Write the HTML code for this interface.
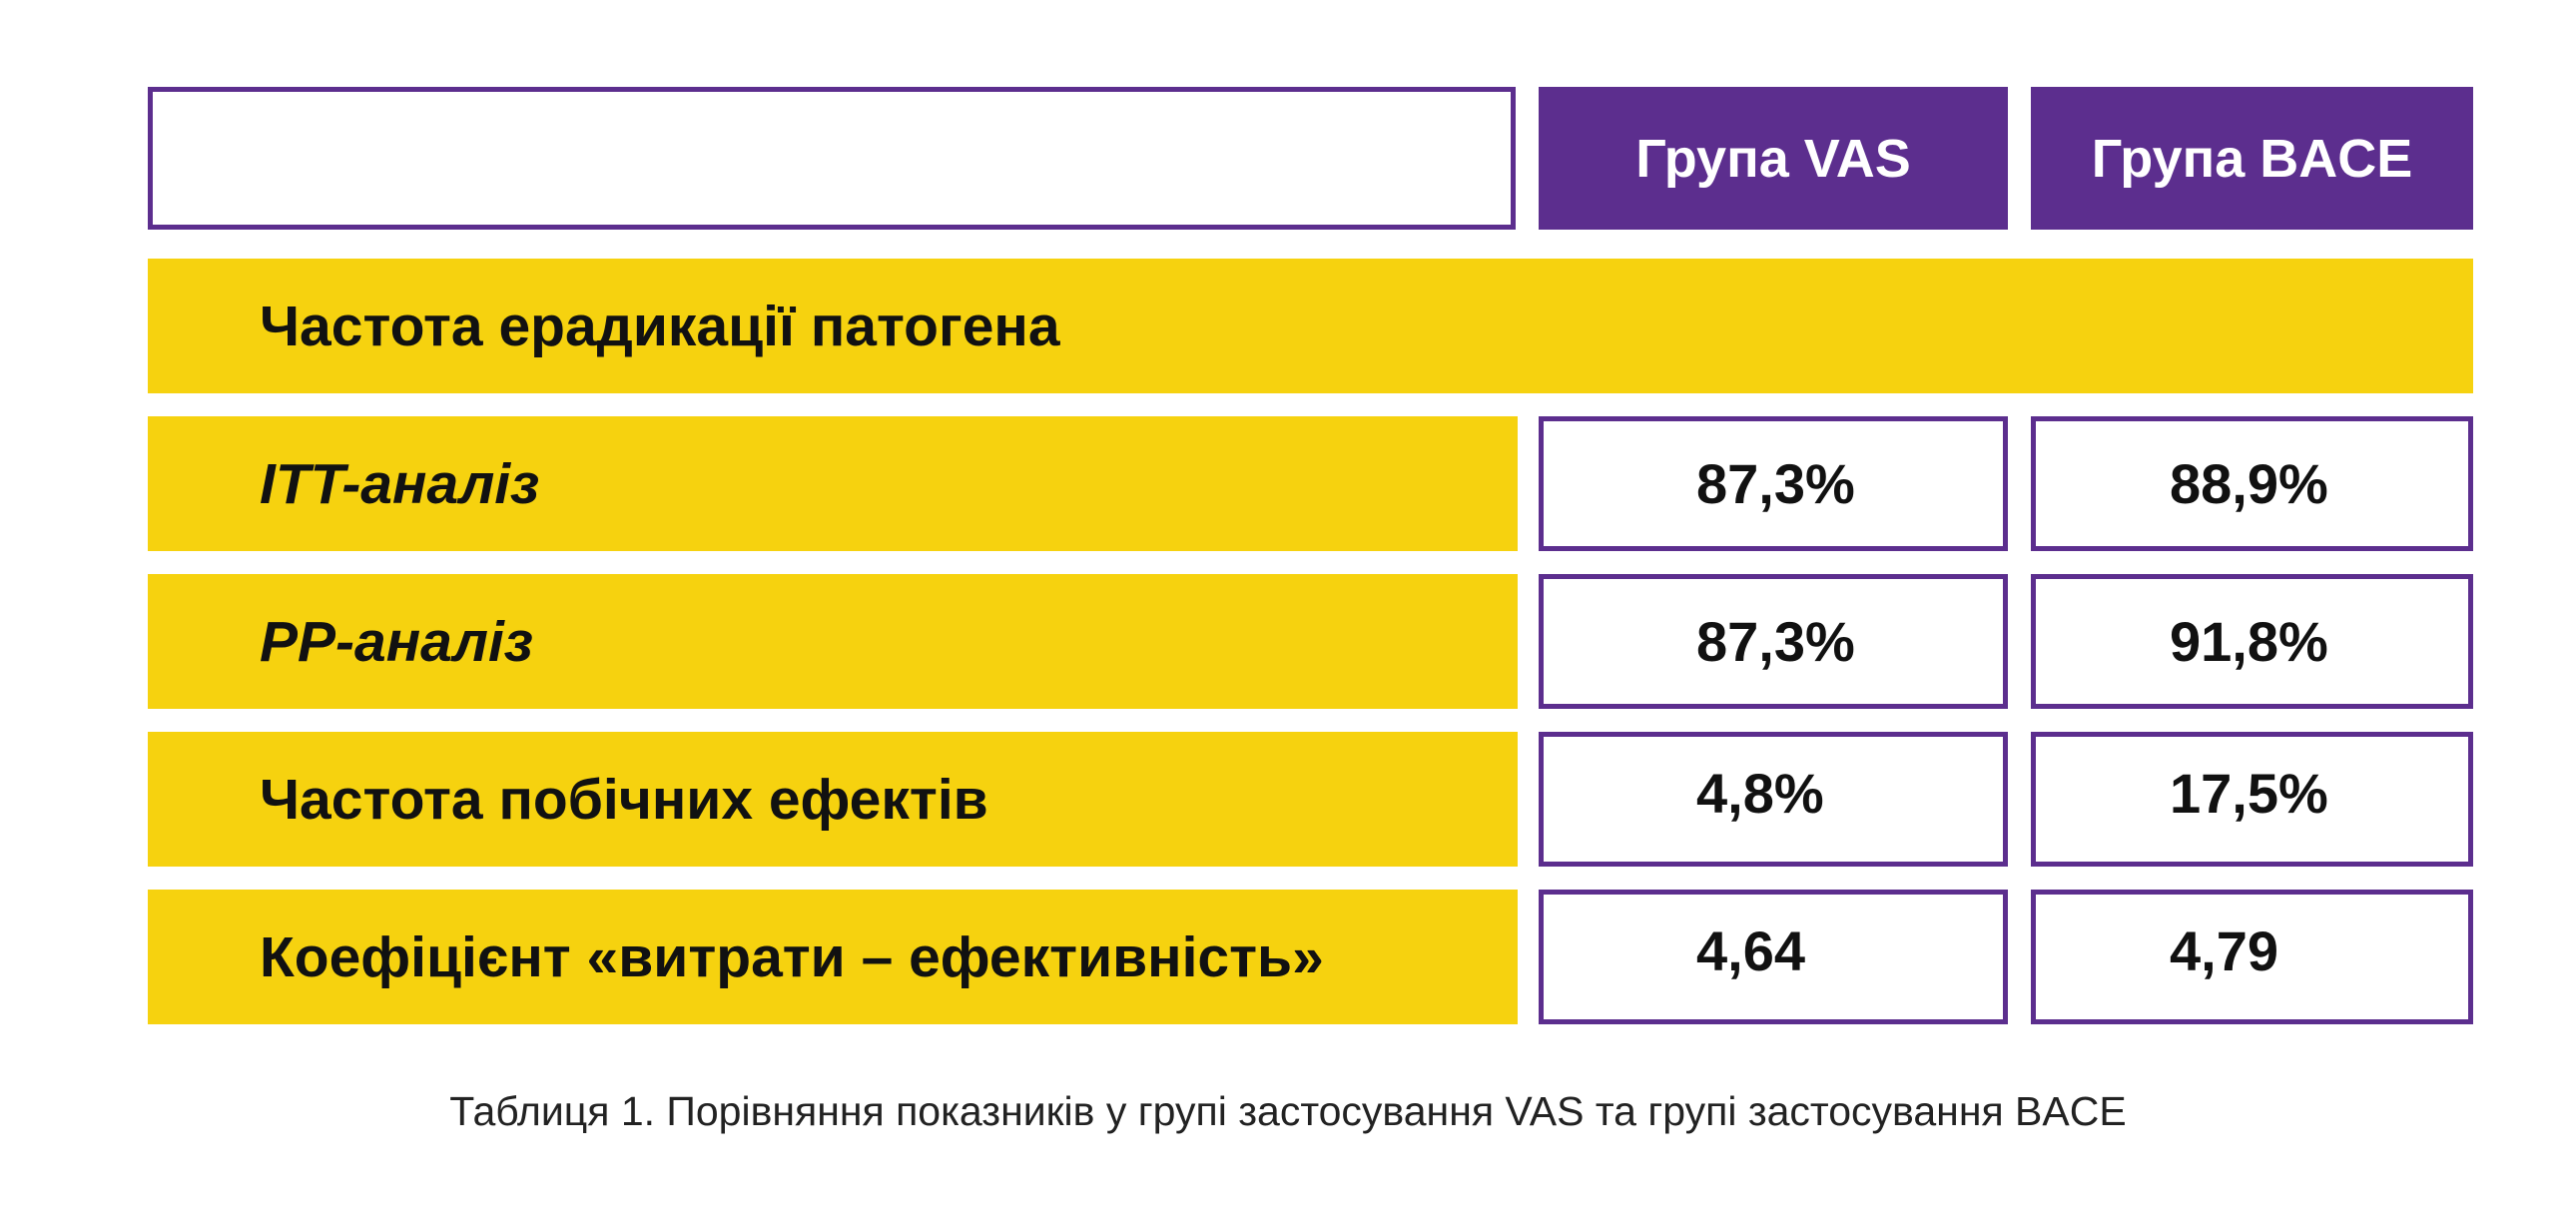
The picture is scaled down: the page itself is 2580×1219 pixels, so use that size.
<!DOCTYPE html>
<html><head><meta charset="utf-8"><style>
body{margin:0;width:2580px;height:1219px;background:#fff;position:relative;overflow:hidden;font-family:"Liberation Sans","DejaVu Sans",sans-serif}
div{position:absolute;box-sizing:border-box}
.y{background:#f6d20f}
.w{background:#fff;border:5px solid #5c2e8e}
.h{background:#5c2e8e;color:#fff;font-weight:bold;font-size:54px;display:flex;align-items:center;justify-content:center}
.lbl{left:260px;font-weight:bold;font-size:57px;color:#111;display:flex;align-items:center}
.v{font-weight:bold;font-size:56px;color:#111;display:flex;align-items:center}
</style></head><body>
<div class="w" style="left:148px;top:87px;width:1370px;height:143px"></div>
<div class="h" style="left:1541px;top:87px;width:470px;height:143px">Група VAS</div>
<div class="h" style="left:2034px;top:87px;width:443px;height:143px">Група BACE</div>
<div class="y" style="left:148px;top:259px;width:2329px;height:135px"></div>
<div class="lbl" style="top:259px;height:135px">Частота ерадикації патогена</div>
<div style="left:0;width:2580px;top:1090px;text-align:center;font-size:41px;color:#222">Таблиця 1. Порівняння показників у групі застосування VAS та групі застосування BACE</div>
<script>
const labels=["ITT-аналіз","PP-аналіз","Частота побічних ефектів","Коефіцієнт «витрати – ефективність»"];
const vas=["87,3%","87,3%","4,8%","4,64"];
const bace=["88,9%","91,8%","17,5%","4,79"];
const tops=[417,575,733,891];
labels.forEach((l,i)=>{
 const t=tops[i];
 const y=document.createElement('div');y.className='y';
 
 
 y.style.cssText=`left:148px;top:${t}px;width:1372px;height:135px`;document.body.appendChild(y);
 const lb=document.createElement('div');lb.className='lbl';
 
 
 lb.style.cssText=`top:${t}px;height:135px;`+(i<2?'font-style:italic;':'');lb.textContent=l;document.body.appendChild(lb);
 [[1541,470,1699,vas[i]],[2034,443,2173,bace[i]]].forEach(([x,w,tx,val],j)=>{
  const c=document.createElement('div');c.className='w';
  
  
  c.style.cssText=`left:${x}px;top:${t}px;width:${w}px;height:135px`;document.body.appendChild(c);
  const v=document.createElement('div');v.className='v';
  
  
  v.style.cssText=`left:${tx}px;top:${t+(i>1?-6:0)}px;height:135px`;v.textContent=val;document.body.appendChild(v);
 });
});
</script>
</body></html>
